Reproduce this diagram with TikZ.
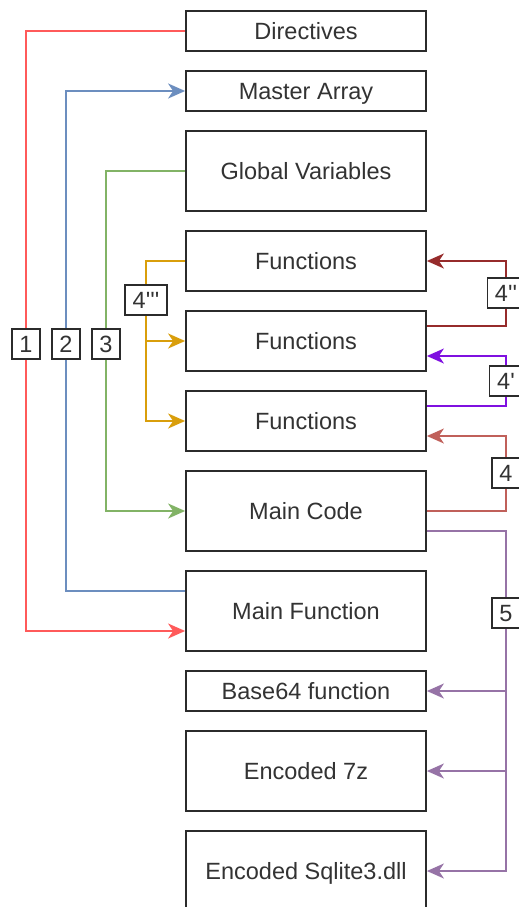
\documentclass[tikz,border=0pt]{standalone}
\usepackage{fontspec}
\setmainfont{Liberation Sans}[Ligatures=TeXOff]
\usetikzlibrary{arrows.meta}
\definecolor{boxc}{HTML}{2B2B2B}
\definecolor{txtc}{HTML}{333333}
\definecolor{cone}{HTML}{FF5A5A}
\definecolor{ctwo}{HTML}{6C8EBF}
\definecolor{cthree}{HTML}{82B366}
\definecolor{cfa}{HTML}{D99E0B}
\definecolor{cfb}{HTML}{962B2B}
\definecolor{cfc}{HTML}{7F10E0}
\definecolor{cfd}{HTML}{C0605A}
\definecolor{cfive}{HTML}{9673A6}
\begin{document}
\begin{tikzpicture}[x=1pt,y=-1pt,
  box/.style={draw=boxc, line width=1.8pt, fill=white, minimum width=240pt,
    text=txtc, font=\fontsize{23.5}{28}\selectfont, inner sep=0pt,
    text height=17pt, text depth=0pt},
  lbl/.style={draw=boxc, line width=1.5pt, fill=white, text=txtc,
    font=\fontsize{23.5}{28}\selectfont, minimum height=30pt, minimum width=28pt,
    inner xsep=7.5pt, inner ysep=0pt, text height=17pt, text depth=0pt},
  conn/.style={line width=1.6pt},
  arr/.style={-{Stealth[length=17pt,width=15pt,inset=5pt]}}]
\useasboundingbox (0,0) rectangle (519,907);

\node[box, minimum height=40pt] (dir) at (306,31) {Directives};
\node[box, minimum height=40pt] (ma) at (306,91) {Master Array};
\node[box, minimum height=80pt] (gv) at (306,171) {Global Variables};
\node[box, minimum height=60pt] (f1) at (306,261) {Functions};
\node[box, minimum height=60pt] (f2) at (306,341) {Functions};
\node[box, minimum height=60pt] (f3) at (306,421) {Functions};
\node[box, minimum height=80pt] (mc) at (306,511) {Main Code};
\node[box, minimum height=80pt] (mf) at (306,611) {Main Function};
\node[box, minimum height=40pt] (b64) at (306,691) {Base64 function};
\node[box, minimum height=80pt] (e7z) at (306,771) {Encoded 7z};
\node[box, minimum height=80pt] (sq) at (306,871) {Encoded Sqlite3.dll};

% connectors
\draw[conn,cone,arr] (dir.west) -| (26,631) -- ([yshift=-20pt]mf.west);
\draw[conn,ctwo,arr] ([yshift=20pt]mf.west) -| (66,91) -- (ma.west);
\draw[conn,cthree,arr] (gv.west) -| (106,511) -- (mc.west);
\coordinate (ob) at (146,341);
\draw[conn,cfa,arr] (f1.west) -| (146,421) -- (f3.west);
\draw[conn,cfa,arr] (ob) -- (f2.west);
\draw[conn,cfb,arr] ([yshift=15pt]f2.east) -| (506,261) -- (f1.east);
\draw[conn,cfc,arr] ([yshift=15pt]f3.east) -| (506,356) -- ([yshift=-15pt]f2.east);
\draw[conn,cfd,arr] (mc.east) -| (506,436) -- ([yshift=-15pt]f3.east);
\coordinate (fa) at (506,691);
\coordinate (fb) at (506,771);
\draw[conn,cfive,arr] ([yshift=-20pt]mc.east) -| (506,871) -- (sq.east);
\draw[conn,cfive,arr] (fa) -- (b64.east);
\draw[conn,cfive,arr] (fb) -- (e7z.east);

% labels
\node[lbl] (l1) at (26,344) {1};
\node[lbl] (l2) at (66,344) {2};
\node[lbl] (l3) at (106,344) {3};
\node[lbl] (l4a) at (146,300) {4'''};
\node[lbl] (l4b) at (506,293) {4''};
\node[lbl] (l4c) at (506,381) {4'};
\node[lbl] (l4d) at (506,473) {4};
\node[lbl] (l5) at (506,613) {5};
\end{tikzpicture}
\end{document}
